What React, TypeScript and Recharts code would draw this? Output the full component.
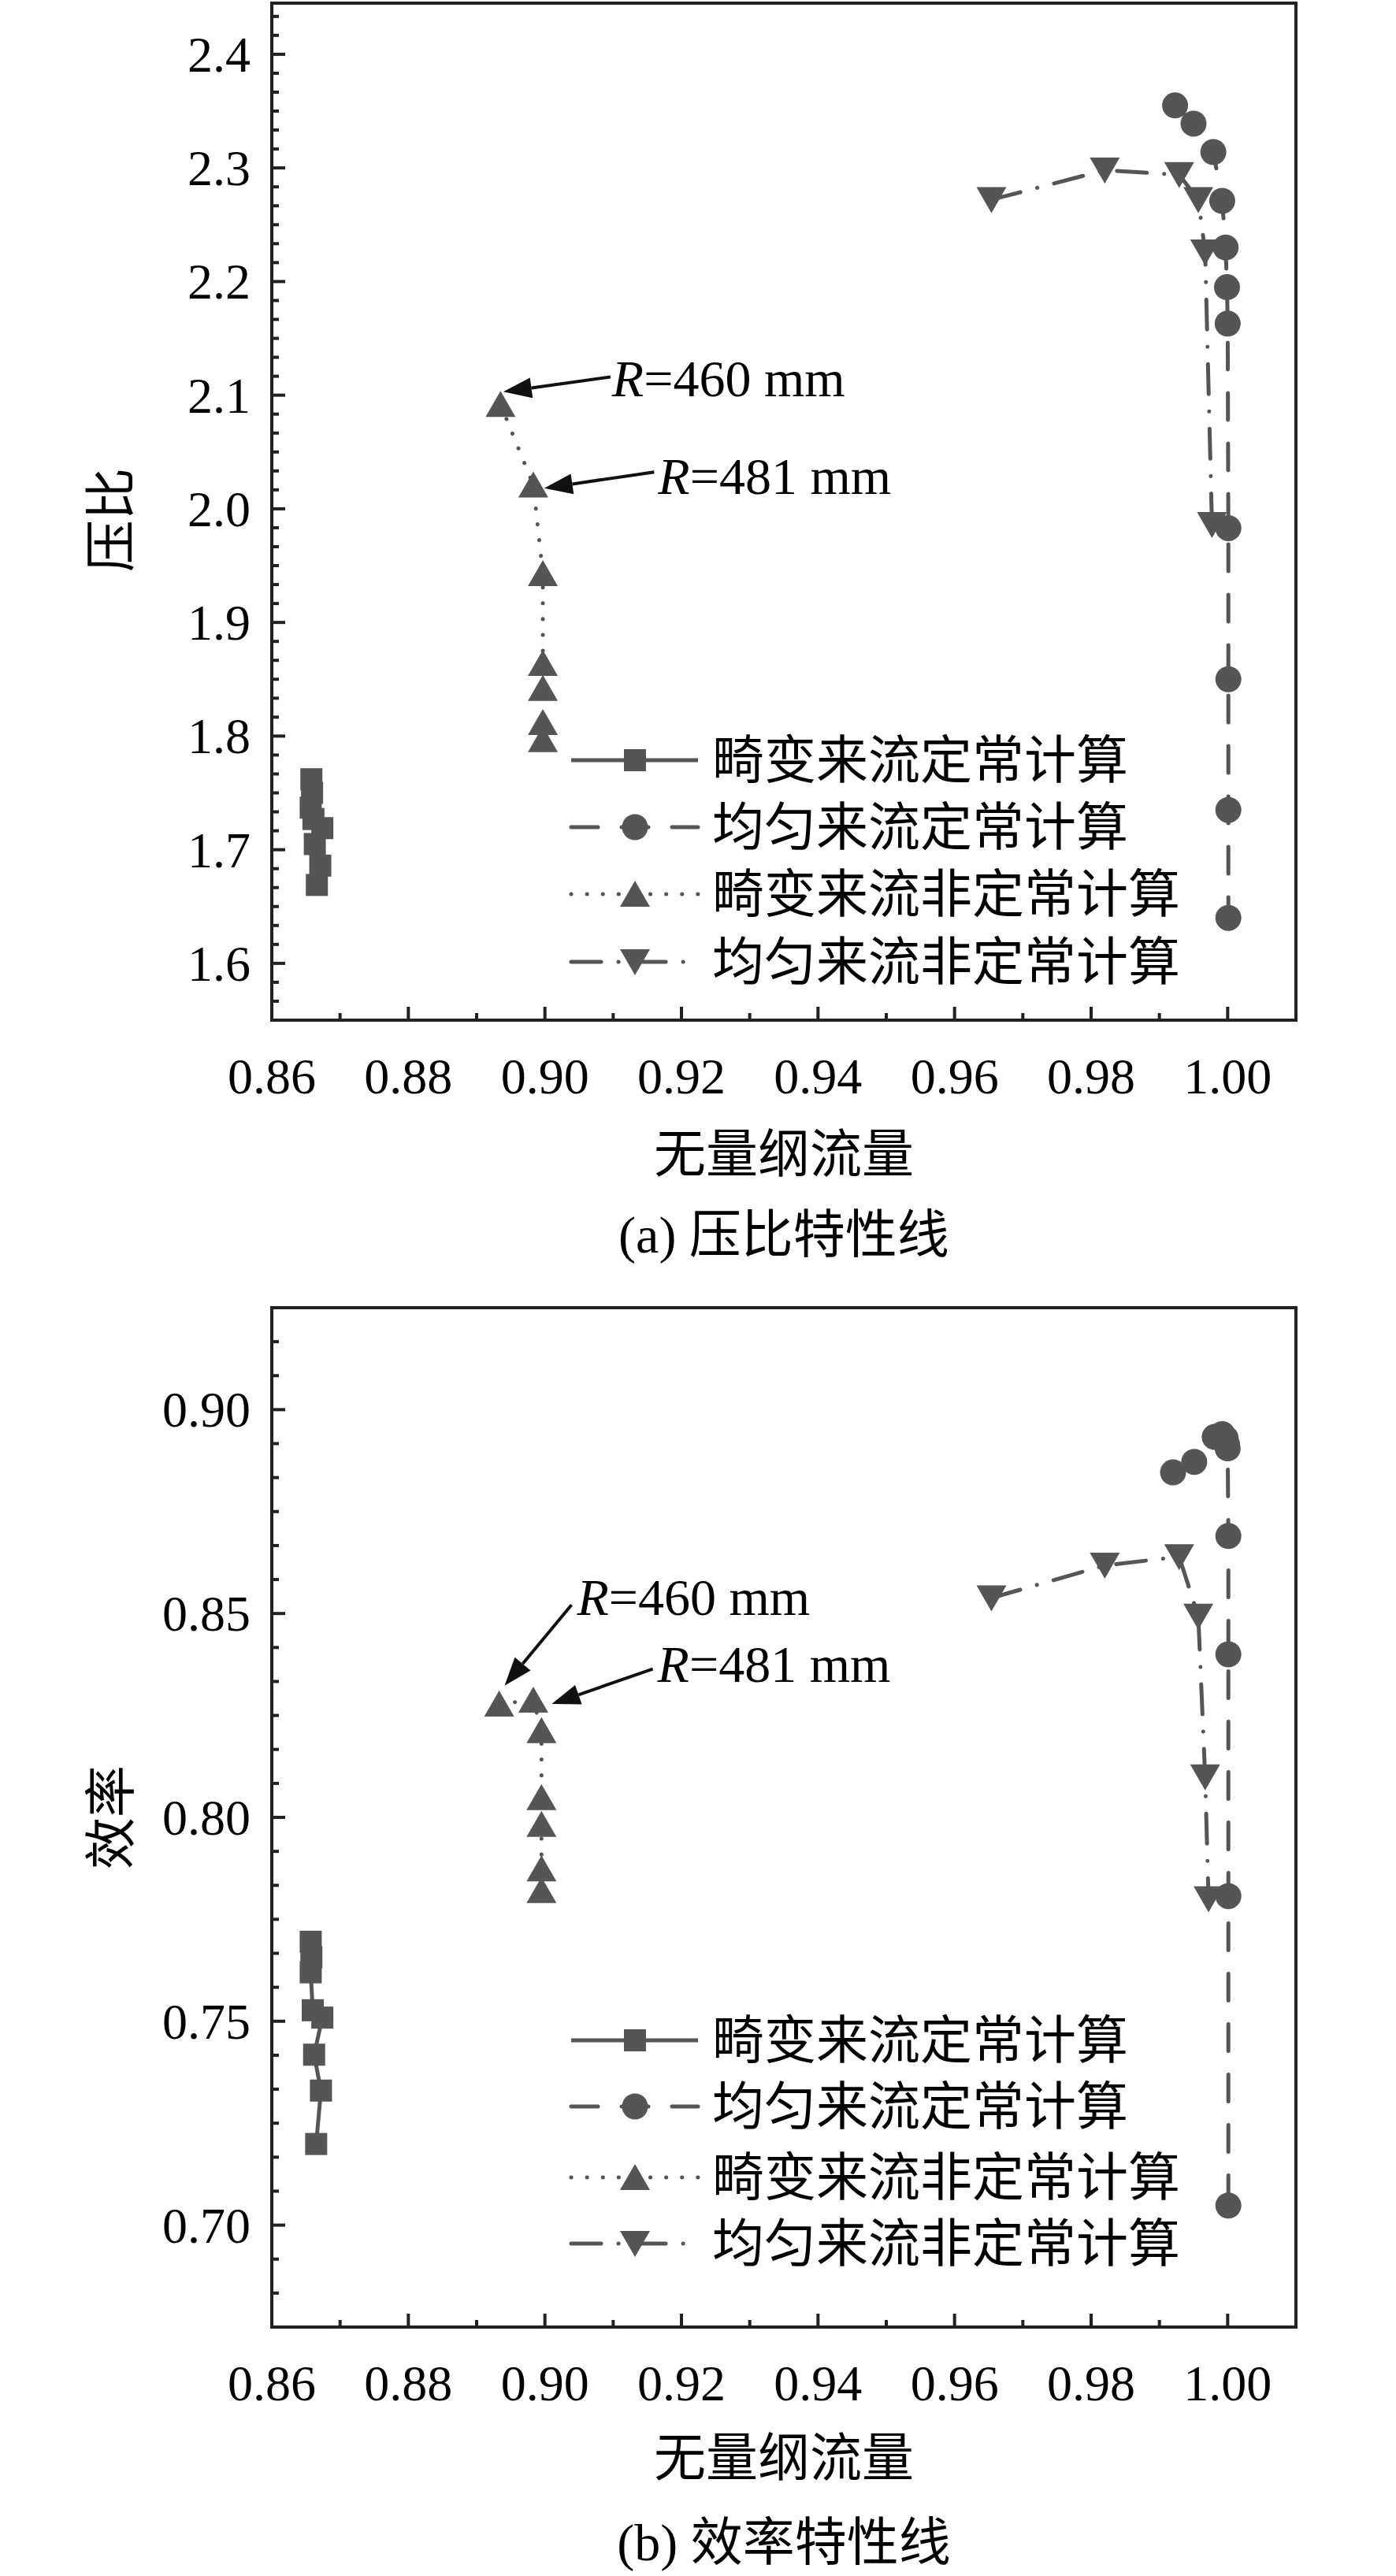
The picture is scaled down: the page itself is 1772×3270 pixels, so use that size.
import React from 'react';
import { ScatterChart, Scatter, XAxis, YAxis, ReferenceArea, ReferenceLine } from 'recharts';

// ---------- data ----------
const seriesNames = ['畸变来流定常计算', '均匀来流定常计算', '畸变来流非定常计算', '均匀来流非定常计算'];

const xMajorTicks = [0.86, 0.88, 0.9, 0.92, 0.94, 0.96, 0.98, 1.0];
const xMinorTicks = [0.87, 0.89, 0.91, 0.93, 0.95, 0.97, 0.99];
const xDomain = [0.86, 1.01];

const yMajorTicksA = [1.6, 1.7, 1.8, 1.9, 2.0, 2.1, 2.2, 2.3, 2.4];
const yDomainA = [1.55, 2.445];
const yMajorTicksB = [0.7, 0.75, 0.8, 0.85, 0.9];
const yDomainB = [0.675, 0.925];

// (a) pressure ratio
const distortedSteadyA = [
  { x: 0.8658, y: 1.762 }, { x: 0.8659, y: 1.75 }, { x: 0.8657, y: 1.737 }, { x: 0.8661, y: 1.727 },
  { x: 0.8674, y: 1.719 }, { x: 0.8663, y: 1.705 }, { x: 0.8671, y: 1.686 }, { x: 0.8666, y: 1.669 },
];
const uniformSteadyA = [
  { x: 0.9923, y: 2.355 }, { x: 0.995, y: 2.339 }, { x: 0.9979, y: 2.314 }, { x: 0.9992, y: 2.271 },
  { x: 0.9997, y: 2.23 }, { x: 0.9999, y: 2.195 }, { x: 1.0, y: 2.163 }, { x: 1.0001, y: 1.983 },
  { x: 1.0001, y: 1.85 }, { x: 1.0001, y: 1.735 }, { x: 1.0001, y: 1.64 },
];
const distortedUnsteadyA = [
  { x: 0.8935, y: 2.092 }, { x: 0.8983, y: 2.021 }, { x: 0.8997, y: 1.943 }, { x: 0.8997, y: 1.864 },
  { x: 0.8997, y: 1.842 }, { x: 0.8997, y: 1.812 }, { x: 0.8997, y: 1.797 },
];
const uniformUnsteadyA = [
  { x: 0.9654, y: 2.272 }, { x: 0.982, y: 2.298 }, { x: 0.9929, y: 2.294 }, { x: 0.9957, y: 2.272 },
  { x: 0.9967, y: 2.226 }, { x: 0.9977, y: 1.986 },
];

// (b) efficiency
const distortedSteadyB = [
  { x: 0.8657, y: 0.7695 }, { x: 0.8658, y: 0.7657 }, { x: 0.8657, y: 0.762 }, { x: 0.866, y: 0.7527 },
  { x: 0.8674, y: 0.7509 }, { x: 0.8662, y: 0.7418 }, { x: 0.8672, y: 0.733 }, { x: 0.8665, y: 0.7199 },
];
const uniformSteadyB = [
  { x: 0.992, y: 0.8846 }, { x: 0.9951, y: 0.8872 }, { x: 0.9981, y: 0.8933 }, { x: 0.9992, y: 0.894 },
  { x: 0.9997, y: 0.893 }, { x: 0.9999, y: 0.8915 }, { x: 1.0, y: 0.8905 }, { x: 1.0001, y: 0.869 },
  { x: 1.0001, y: 0.84 }, { x: 1.0001, y: 0.7807 }, { x: 1.0001, y: 0.7048 },
];
const distortedUnsteadyB = [
  { x: 0.8933, y: 0.8278 }, { x: 0.8983, y: 0.8288 }, { x: 0.8995, y: 0.8213 }, { x: 0.8995, y: 0.8049 },
  { x: 0.8995, y: 0.7983 }, { x: 0.8995, y: 0.7874 }, { x: 0.8995, y: 0.7821 },
];
const uniformUnsteadyB = [
  { x: 0.9654, y: 0.8538 }, { x: 0.982, y: 0.8618 }, { x: 0.9929, y: 0.8639 }, { x: 0.9957, y: 0.8493 },
  { x: 0.9967, y: 0.8099 }, { x: 0.9972, y: 0.78 },
];

const annotationsA = [
  { from: { x: 0.9096, y: 2.116 }, to: { x: 0.8939, y: 2.103 }, num: '460', dx: 2, dy: 24 },
  { from: { x: 0.916, y: 2.0324 }, to: { x: 0.8999, y: 2.0182 }, num: '481', dx: 5, dy: 28 },
];
const annotationsB = [
  { from: { x: 0.9039, y: 0.8521 }, to: { x: 0.8941, y: 0.8323 }, num: '460', dx: 7, dy: 13 },
  { from: { x: 0.9158, y: 0.8364 }, to: { x: 0.901, y: 0.8278 }, num: '481', dx: 6, dy: 16 },
];

// ---------- styles ----------
const GRAY = '#555555';
const AXIS = '#222222';
const SERIF = "'Liberation Serif', 'Times New Roman', serif";
const CJK = "'Liberation Serif', 'Noto Sans CJK SC', serif";
const LW = 5;

const seriesStyles = [
  { kind: 'square', dash: undefined },
  { kind: 'circle', dash: '34 30' },
  { kind: 'up', dash: '0.1 20' },
  { kind: 'down', dash: '38 22 0.1 22' },
];

const Marker = ({ kind, cx, cy }: { kind: string; cx: number; cy: number }) => {
  if (kind === 'square') return <rect x={cx - 14} y={cy - 14} width={28} height={28} fill={GRAY} />;
  if (kind === 'circle') return <circle cx={cx} cy={cy} r={16.5} fill={GRAY} />;
  if (kind === 'up')
    return <polygon points={`${cx - 19},${cy + 16} ${cx + 19},${cy + 16} ${cx},${cy - 17}`} fill={GRAY} />;
  return <polygon points={`${cx - 19},${cy - 16} ${cx + 19},${cy - 16} ${cx},${cy + 17}`} fill={GRAY} />;
};

const makeShape = (kind: string) => (props: any) => {
  const { cx, cy } = props;
  if (cx == null || cy == null) return <g />;
  return <Marker kind={kind} cx={cx} cy={cy} />;
};

const near = (a: number, b: number) => Math.abs(a - b) < 1e-7;

const XTick = (props: any) => {
  const { x, y, payload } = props;
  const v = payload.value;
  const major = xMajorTicks.some((m) => near(m, v));
  return (
    <g>
      <line x1={x} x2={x} y1={y} y2={y - (major ? 17 : 9)} stroke={AXIS} strokeWidth={4} />
      {major && (
        <text x={x} y={y + 93} textAnchor="middle" fontFamily={SERIF} fontSize={64} fill="#000">
          {v.toFixed(2)}
        </text>
      )}
    </g>
  );
};

const makeYTick = (majors: number[], digits: number) => (props: any) => {
  const { x, y, payload } = props;
  const v = payload.value;
  const major = majors.some((m) => near(m, v));
  return (
    <g>
      <line x1={x} x2={x + (major ? 17 : 9)} y1={y} y2={y} stroke={AXIS} strokeWidth={4} />
      {major && (
        <text x={x - 27} y={y + 22} textAnchor="end" fontFamily={SERIF} fontSize={64} fill="#000">
          {v.toFixed(digits)}
        </text>
      )}
    </g>
  );
};

const buildYTicks = (majors: number[], domain: number[]) => {
  const step = (majors[1] - majors[0]) / 6;
  const out: number[] = [];
  for (let i = -6; i <= (majors.length - 1) * 6 + 6; i++) {
    const v = +(majors[0] + i * step).toFixed(6);
    if (v > domain[0] + 1e-6 && v < domain[1] - 1e-6) out.push(v);
  }
  return out;
};

const makeArrow = (dx: number, dy: number, num: string) => (props: any) => {
  const { x1, y1, x2, y2 } = props;
  if ([x1, y1, x2, y2].some((v) => v == null || isNaN(v))) return <g />;
  const ang = Math.atan2(y2 - y1, x2 - x1);
  const L = 36;
  const W = 13;
  const bx = x2 - L * Math.cos(ang);
  const by = y2 - L * Math.sin(ang);
  const px = -Math.sin(ang);
  const py = Math.cos(ang);
  return (
    <g>
      <line x1={x1} y1={y1} x2={bx} y2={by} stroke="#111" strokeWidth={4} />
      <polygon points={`${x2},${y2} ${bx + px * W},${by + py * W} ${bx - px * W},${by - py * W}`} fill="#111" />
      <text x={x1 + dx} y={y1 + dy} fontFamily={SERIF} fontSize={66} fill="#000">
        <tspan fontStyle="italic">R</tspan>
        {`=${num} mm`}
      </text>
    </g>
  );
};

const Legend = ({ left, top, rows }: { left: number; top: number; rows: number[] }) => (
  <svg style={{ position: 'absolute', left, top }} width={820} height={rows[3] + 60}>
    {seriesNames.map((name, i) => {
      const s = seriesStyles[i];
      const cy = rows[i];
      return (
        <g key={name}>
          <line x1={5} x2={166} y1={cy} y2={cy} stroke={GRAY} strokeWidth={LW} strokeDasharray={s.dash} strokeLinecap={s.dash ? 'round' : 'butt'} />
          <Marker kind={s.kind} cx={86} cy={cy} />
          <text x={184} y={cy} dominantBaseline="central" fontFamily={CJK} fontSize={66} fill="#000">
            {name}
          </text>
        </g>
      );
    })}
  </svg>
);

const Panel = ({ height, marginTop, yDomain, yMajors, digits, series, annotations }: any) => {
  const yTicks = buildYTicks(yMajors, yDomain);
  const xTicks = [...xMajorTicks, ...xMinorTicks].sort((a, b) => a - b);
  return (
    <ScatterChart width={1772} height={height} margin={{ top: marginTop, right: 127, left: 0, bottom: 0 }}>
      <XAxis
        type="number"
        dataKey="x"
        domain={xDomain}
        allowDataOverflow
        ticks={xTicks}
        interval={0}
        tickSize={0}
        tickMargin={0}
        tickLine={false}
        axisLine={false}
        tick={<XTick />}
        height={145}
      />
      <YAxis
        type="number"
        dataKey="y"
        domain={yDomain}
        allowDataOverflow
        ticks={yTicks}
        interval={0}
        tickSize={0}
        tickMargin={0}
        tickLine={false}
        axisLine={false}
        tick={makeYTick(yMajors, digits)}
        width={345}
      />
      <ReferenceArea x1={xDomain[0]} x2={xDomain[1]} y1={yDomain[0]} y2={yDomain[1]} fill="none" fillOpacity={0} stroke={AXIS} strokeWidth={4} strokeOpacity={1} ifOverflow="visible" />
      {series.map((data: any[], i: number) => {
        const s = seriesStyles[i];
        return (
          <Scatter
            key={seriesNames[i]}
            name={seriesNames[i]}
            data={data}
            isAnimationActive={false}
            line={{ stroke: GRAY, strokeWidth: LW, strokeDasharray: s.dash, strokeLinecap: s.dash ? 'round' : 'butt', fill: 'none' }}
            lineType="joint"
            shape={makeShape(s.kind)}
          />
        );
      })}
      {annotations.map((a: any, i: number) => (
        <ReferenceLine
          key={i}
          segment={[a.from, a.to]}
          ifOverflow="visible"
          stroke="#111"
          shape={makeArrow(a.dx, a.dy, a.num)}
        />
      ))}
    </ScatterChart>
  );
};

const textStyle = (left: number, top: number, width: number): React.CSSProperties => ({
  position: 'absolute',
  left,
  top,
  width,
  textAlign: 'center',
  fontFamily: CJK,
  fontSize: 66,
  lineHeight: '66px',
  whiteSpace: 'nowrap',
  color: '#000',
});

export default function App() {
  return (
    <div style={{ position: 'absolute', left: 0, top: 0, width: 1772, height: 3270, background: '#fff', overflow: 'hidden' }}>
      <div style={{ position: 'absolute', left: 0, top: 0 }}>
        <Panel
          height={1440}
          marginTop={4}
          yDomain={yDomainA}
          yMajors={yMajorTicksA}
          digits={1}
          series={[distortedSteadyA, uniformSteadyA, distortedUnsteadyA, uniformUnsteadyA]}
          annotations={annotationsA}
        />
      </div>
      <div style={{ position: 'absolute', left: 0, top: 1640 }}>
        <Panel
          height={1459}
          marginTop={20}
          yDomain={yDomainB}
          yMajors={yMajorTicksB}
          digits={2}
          series={[distortedSteadyB, uniformSteadyB, distortedUnsteadyB, uniformUnsteadyB]}
          annotations={annotationsB}
        />
      </div>
      <Legend left={720} top={0} rows={[965, 1050, 1135, 1221]} />
      <Legend left={720} top={1640} rows={[950, 1034, 1124, 1208]} />

      <div style={{ ...textStyle(42, 627, 200), transform: 'rotate(-90deg)' }}>压比</div>
      <div style={{ ...textStyle(42, 2274, 200), transform: 'rotate(-90deg)' }}>效率</div>

      <div style={textStyle(695, 1433, 600)}>无量纲流量</div>
      <div style={textStyle(695, 1535, 600)}>(a) 压比特性线</div>
      <div style={textStyle(695, 3088, 600)}>无量纲流量</div>
      <div style={textStyle(695, 3195, 600)}>(b) 效率特性线</div>
    </div>
  );
}
